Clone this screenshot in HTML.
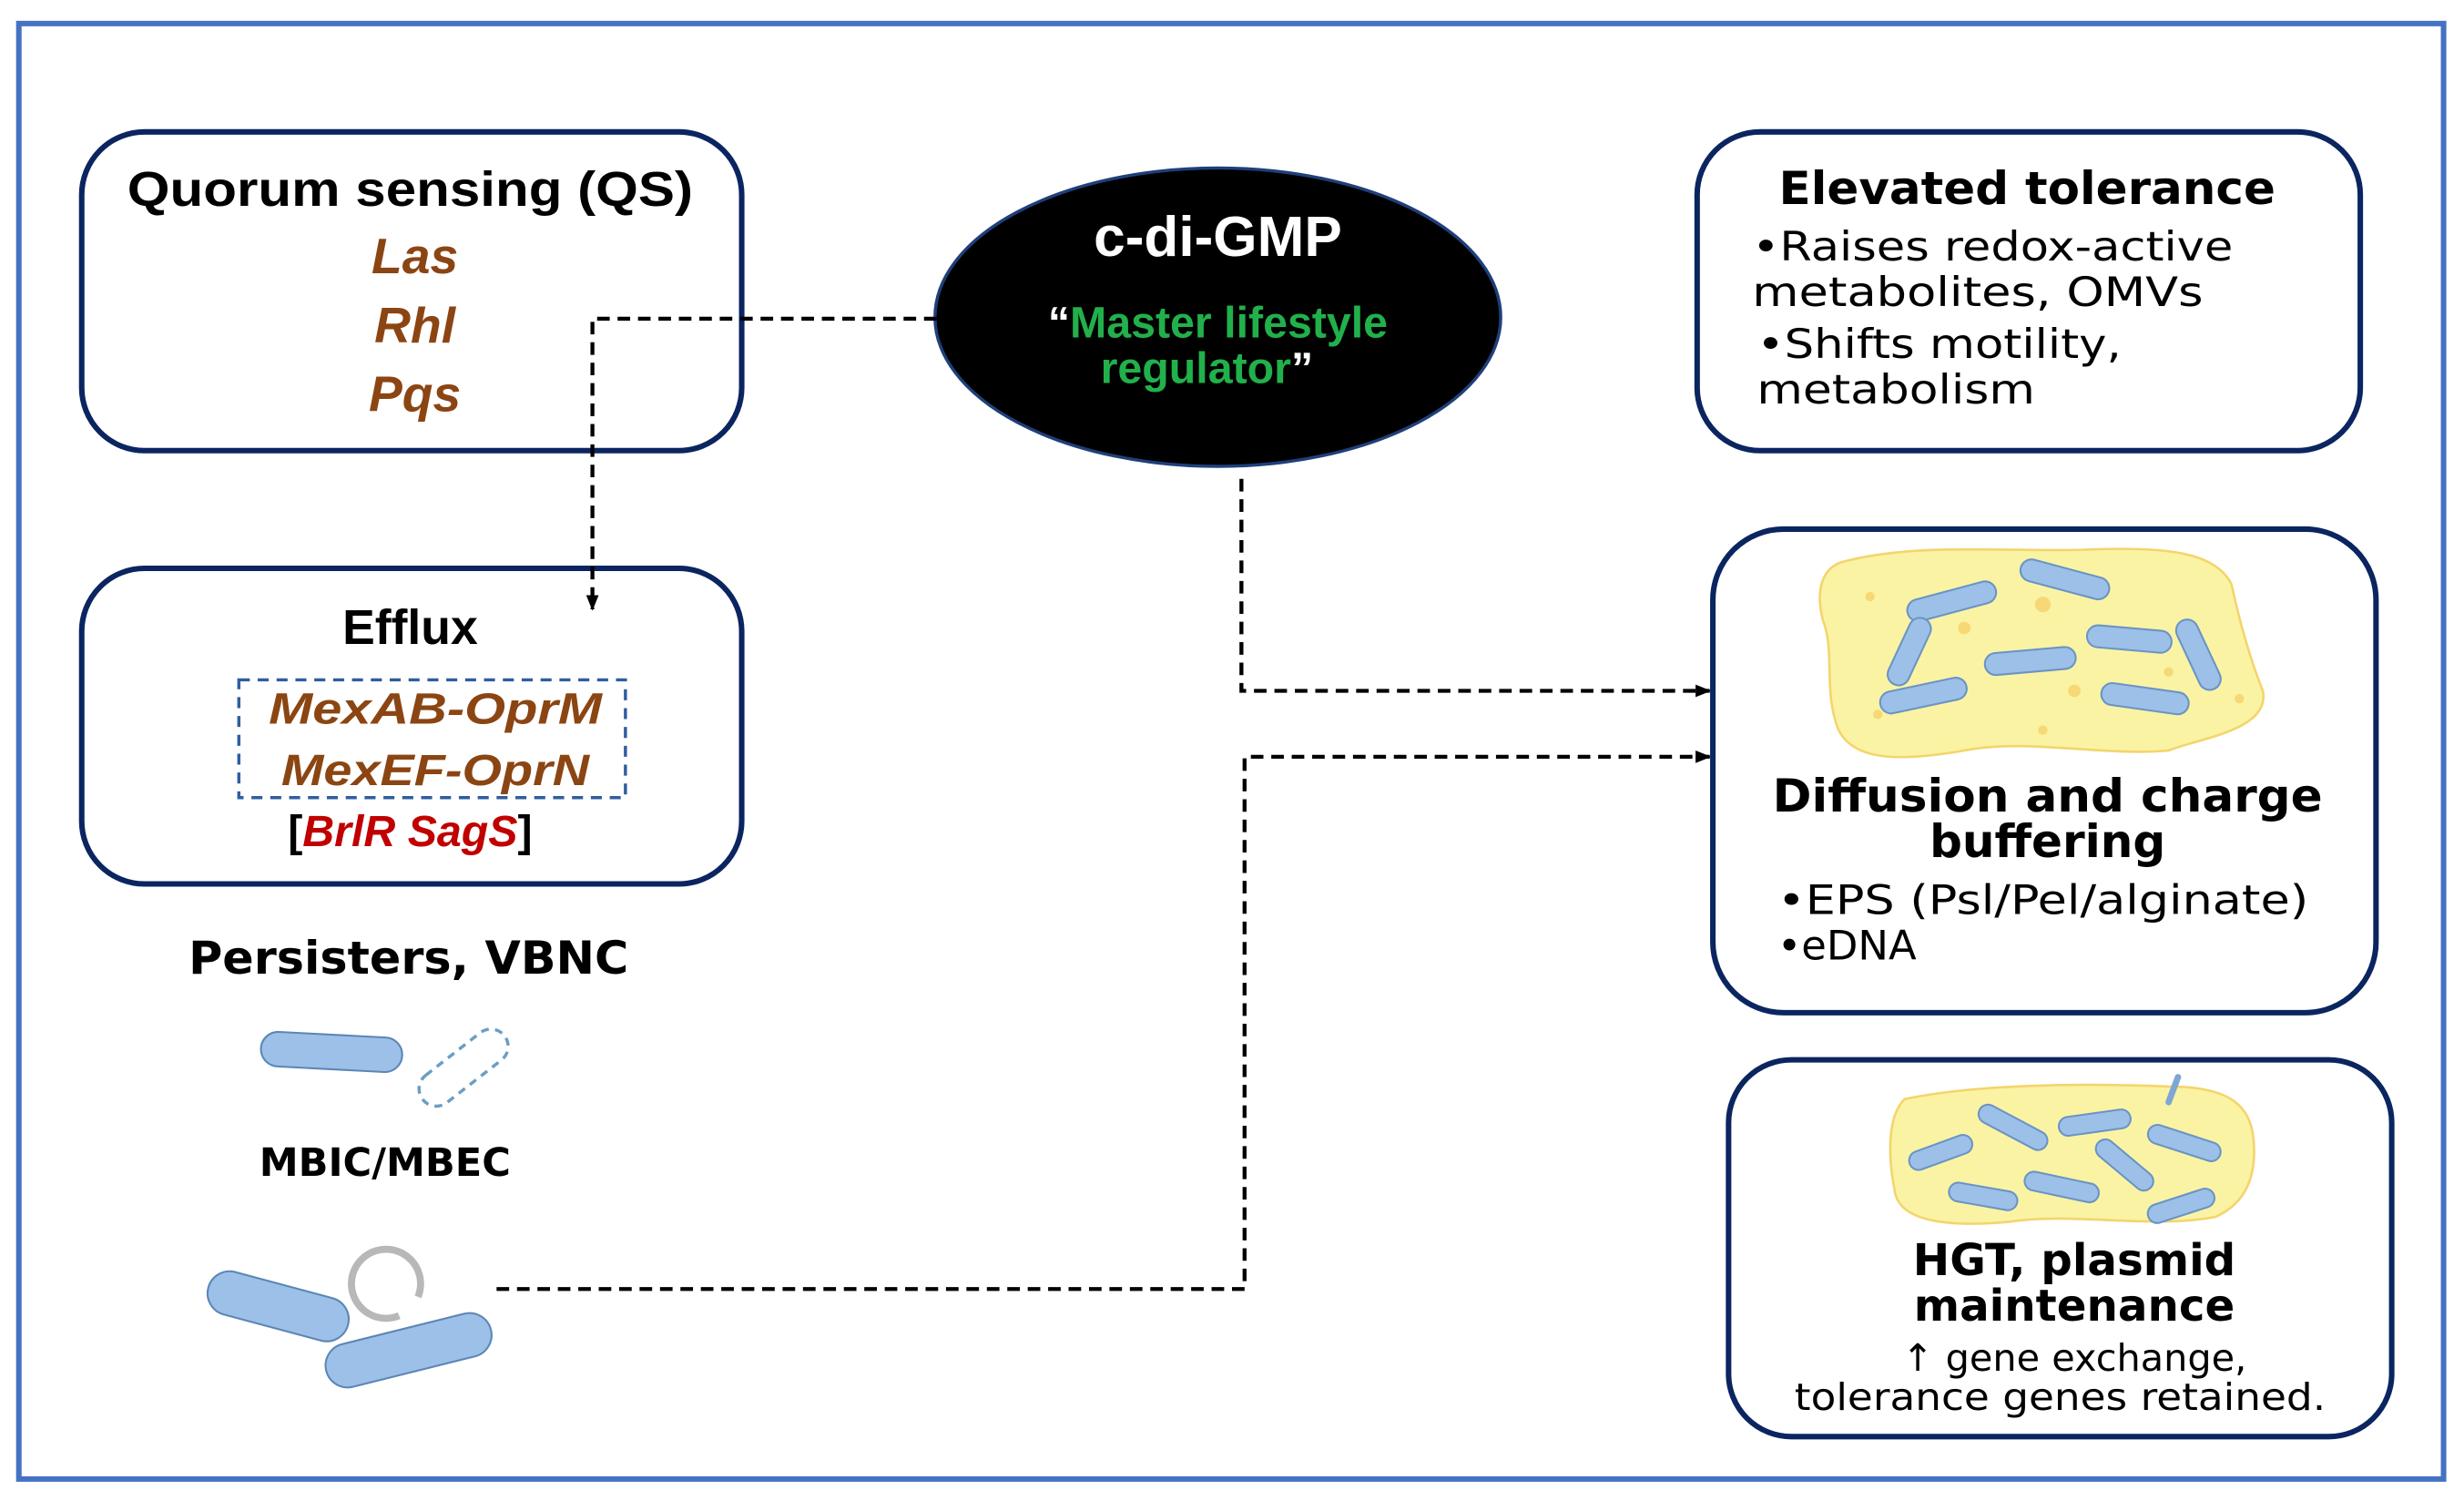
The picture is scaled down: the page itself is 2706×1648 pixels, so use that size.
<!DOCTYPE html>
<html><head><meta charset="utf-8"><style>
html,body{margin:0;padding:0;background:#fff;}
svg{display:block;}
.cal{font-family:"Liberation Sans",sans-serif;}
.dv{font-family:"DejaVu Sans","Liberation Sans",sans-serif;}
</style></head><body>
<svg width="2706" height="1648" viewBox="0 0 1568 956" preserveAspectRatio="none" xmlns="http://www.w3.org/2000/svg">
<defs>
<marker id="ar" markerWidth="10" markerHeight="10" refX="9" refY="5" orient="auto" markerUnits="userSpaceOnUse">
<path d="M0,1 L10,5 L0,9 z" fill="#000"/></marker>
</defs>
<rect x="0" y="0" width="1568" height="956" fill="#fff"/>
<rect x="12" y="15" width="1543" height="927" fill="none" stroke="#4472C4" stroke-width="3.5"/>

<!-- QS box -->
<rect x="52" y="84" width="420" height="203" rx="40" fill="#fff" stroke="#0b2560" stroke-width="3.5"/>
<text x="261" y="131" class="cal" font-size="31" font-weight="bold" text-anchor="middle" textLength="360" lengthAdjust="spacingAndGlyphs">Quorum sensing (QS)</text>
<g class="cal" font-size="32" font-weight="bold" font-style="italic" fill="#8B4513" text-anchor="middle">
<text x="264" y="174">Las</text><text x="264" y="218">Rhl</text><text x="264" y="262">Pqs</text></g>

<!-- Efflux box -->
<rect x="52" y="362" width="420" height="201" rx="40" fill="#fff" stroke="#0b2560" stroke-width="3.5"/>
<text x="261" y="410" class="cal" font-size="31" font-weight="bold" text-anchor="middle">Efflux</text>
<rect x="152" y="433" width="246" height="75" fill="none" stroke="#2e5e9e" stroke-width="2" stroke-dasharray="7,5"/>
<g class="cal" font-size="28" font-weight="bold" font-style="italic" fill="#8B4513" text-anchor="middle">
<text x="277" y="461" textLength="212" lengthAdjust="spacingAndGlyphs">MexAB-OprM</text>
<text x="277" y="500" textLength="196" lengthAdjust="spacingAndGlyphs">MexEF-OprN</text></g>
<text x="261" y="539" class="cal" font-size="28" font-weight="bold" text-anchor="middle">[<tspan fill="#c00000" font-style="italic">BrlR SagS</tspan>]</text>

<!-- Ellipse -->
<ellipse cx="775" cy="202" rx="180" ry="95" fill="#000" stroke="#1f3f7a" stroke-width="2"/>
<text x="775" y="163" class="cal" font-size="36" font-weight="bold" fill="#fff" text-anchor="middle">c-di-GMP</text>
<g class="cal" font-size="28" font-weight="bold" fill="#22b04b" text-anchor="middle">
<text x="775" y="215"><tspan fill="#fff">“</tspan>Master lifestyle</text>
<text x="768" y="244">regulator<tspan fill="#fff">”</tspan></text></g>

<!-- connectors -->
<g fill="none" stroke="#000" stroke-width="2.5" stroke-dasharray="8,5">
<path d="M596,203 H377 V388" marker-end="url(#ar)"/>
<path d="M790,305 V440 H1088" marker-end="url(#ar)"/>
<path d="M316,821 H792 V482 H1088" marker-end="url(#ar)"/>
</g>

<!-- Persisters -->
<text x="260" y="620" class="dv" font-size="29" font-weight="bold" text-anchor="middle" textLength="280" lengthAdjust="spacingAndGlyphs">Persisters, VBNC</text>
<rect x="166" y="659" width="90" height="22" rx="11" fill="#9dc0e8" stroke="#5b86b5" stroke-width="1.2" transform="rotate(3 211 670)"/>
<rect x="262" y="669" width="66" height="22" rx="11" fill="none" stroke="#6b9ec4" stroke-width="2" stroke-dasharray="5,4" transform="rotate(-38 295 680)"/>
<text x="245" y="749" class="dv" font-size="25" font-weight="bold" text-anchor="middle">MBIC/MBEC</text>
<rect x="131" y="818" width="92" height="28" rx="14" fill="#9dc0e8" stroke="#5b86b5" stroke-width="1.2" transform="rotate(15 177 832)"/>
<path d="M266,826 A22,22 0 1 0 254,838" fill="none" stroke="#b8b8b8" stroke-width="4.5"/>
<rect x="206" y="846" width="108" height="28" rx="14" fill="#9dc0e8" stroke="#5b86b5" stroke-width="1.2" transform="rotate(-14 260 860)"/>

<!-- Elevated tolerance -->
<rect x="1080" y="84" width="422" height="203" rx="40" fill="#fff" stroke="#0b2560" stroke-width="3.5"/>
<text x="1290" y="130" class="dv" font-size="29" font-weight="bold" text-anchor="middle" textLength="316" lengthAdjust="spacingAndGlyphs">Elevated tolerance</text>
<g class="dv" font-size="26">
<text x="1115" y="166" textLength="306" lengthAdjust="spacingAndGlyphs">•Raises redox-active</text>
<text x="1115" y="195" textLength="287" lengthAdjust="spacingAndGlyphs">metabolites, OMVs</text>
<text x="1118" y="228" textLength="232" lengthAdjust="spacingAndGlyphs">•Shifts motility,</text>
<text x="1118" y="257" textLength="177" lengthAdjust="spacingAndGlyphs">metabolism</text></g>

<!-- Diffusion box -->
<rect x="1090" y="337" width="422" height="308" rx="45" fill="#fff" stroke="#0b2560" stroke-width="3.5"/>
<path d="M1172,358 C1220,345 1280,352 1330,350 C1380,348 1410,352 1420,372 C1425,395 1432,420 1440,440 C1445,465 1400,470 1380,478 C1340,482 1290,470 1250,478 C1210,485 1180,485 1170,465 C1160,440 1168,415 1160,395 C1155,375 1160,362 1172,358 Z" fill="#fbf3a4" stroke="#f3d56c" stroke-width="1.5"/>
<g fill="#f6d876"><circle cx="1190" cy="380" r="3"/><circle cx="1250" cy="400" r="4"/><circle cx="1300" cy="385" r="5"/><circle cx="1240" cy="435" r="3"/><circle cx="1320" cy="440" r="4"/><circle cx="1380" cy="428" r="3"/><circle cx="1425" cy="445" r="3"/><circle cx="1195" cy="455" r="3"/><circle cx="1300" cy="465" r="3"/></g>
<g fill="#9dc0e8" stroke="#6a94c4" stroke-width="1.2">
<rect x="1213" y="376" width="58" height="14" rx="7" transform="rotate(-15 1242 383)"/>
<rect x="1285" y="362" width="58" height="14" rx="7" transform="rotate(15 1314 369)"/>
<rect x="1192" y="408" width="46" height="14" rx="7" transform="rotate(-65 1215 415)"/>
<rect x="1263" y="414" width="58" height="14" rx="7" transform="rotate(-5 1292 421)"/>
<rect x="1328" y="400" width="54" height="14" rx="7" transform="rotate(5 1355 407)"/>
<rect x="1375" y="410" width="48" height="14" rx="7" transform="rotate(65 1399 417)"/>
<rect x="1196" y="436" width="56" height="14" rx="7" transform="rotate(-12 1224 443)"/>
<rect x="1337" y="438" width="56" height="14" rx="7" transform="rotate(8 1365 445)"/>
</g>
<g class="dv" font-weight="bold" font-size="29" text-anchor="middle">
<text x="1303" y="517" textLength="350" lengthAdjust="spacingAndGlyphs">Diffusion and charge</text>
<text x="1303" y="546">buffering</text></g>
<g class="dv" font-size="26">
<text x="1131" y="582" textLength="338" lengthAdjust="spacingAndGlyphs">•EPS (Psl/Pel/alginate)</text>
<text x="1131" y="611">•eDNA</text></g>

<!-- HGT box -->
<rect x="1100" y="675" width="422" height="240" rx="40" fill="#fff" stroke="#0b2560" stroke-width="3.5"/>
<path d="M1212,700 C1260,690 1330,690 1380,692 C1420,692 1432,705 1434,725 C1436,745 1432,765 1410,775 C1370,783 1320,772 1280,778 C1240,782 1210,778 1206,760 C1202,740 1200,712 1212,700 Z" fill="#fbf3a4" stroke="#f3d56c" stroke-width="1.5"/>
<line x1="1380" y1="702" x2="1386" y2="686" stroke="#7ea7d3" stroke-width="4" stroke-linecap="round"/>
<g fill="#9dc0e8" stroke="#6a94c4" stroke-width="1.2">
<rect x="1214" y="728" width="42" height="12" rx="6" transform="rotate(-20 1235 734)"/>
<rect x="1257" y="712" width="48" height="12" rx="6" transform="rotate(28 1281 718)"/>
<rect x="1310" y="709" width="46" height="12" rx="6" transform="rotate(-8 1333 715)"/>
<rect x="1366" y="722" width="48" height="12" rx="6" transform="rotate(18 1390 728)"/>
<rect x="1330" y="736" width="44" height="12" rx="6" transform="rotate(40 1352 742)"/>
<rect x="1240" y="756" width="44" height="12" rx="6" transform="rotate(10 1262 762)"/>
<rect x="1288" y="750" width="48" height="12" rx="6" transform="rotate(12 1312 756)"/>
<rect x="1366" y="762" width="44" height="12" rx="6" transform="rotate(-18 1388 768)"/>
</g>
<g class="dv" font-weight="bold" font-size="28" text-anchor="middle">
<text x="1320" y="812">HGT, plasmid</text>
<text x="1320" y="841">maintenance</text></g>
<g class="dv" font-size="24" text-anchor="middle">
<text x="1320" y="873">↑ gene exchange,</text>
<text x="1311" y="898" textLength="338" lengthAdjust="spacingAndGlyphs">tolerance genes retained.</text></g>
</svg>
</body></html>
